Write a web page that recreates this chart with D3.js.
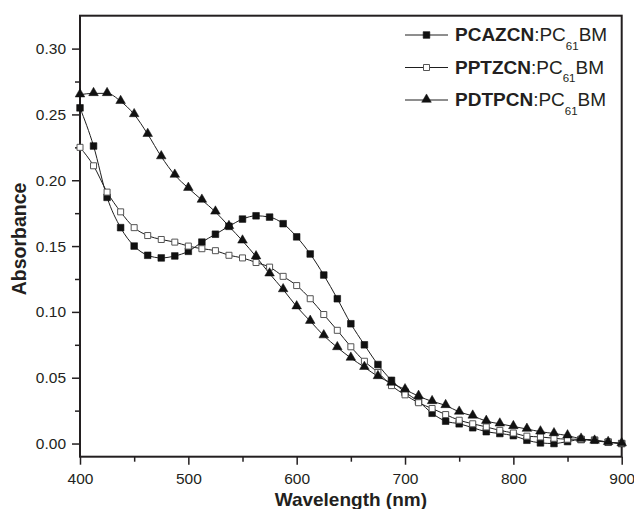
<!DOCTYPE html>
<html>
<head>
<meta charset="utf-8">
<script src="https://cdn.jsdelivr.net/npm/d3@7"></script>
<style>
  html, body { margin: 0; padding: 0; background: #fff; }
  svg { display: block; font-family: "Liberation Sans", Arial, Helvetica, sans-serif; }
</style>
</head>
<body>
<svg id="chart" width="634" height="509"></svg>
<script>
// ---- Data ----
const wavelength = [400, 412.5, 425, 437.5, 450, 462.5, 475, 487.5, 500, 512.5,
  525, 537.5, 550, 562.5, 575, 587.5, 600, 612.5, 625, 637.5,
  650, 662.5, 675, 687.5, 700, 712.5, 725, 737.5, 750, 762.5,
  775, 787.5, 800, 812.5, 825, 837.5, 850, 862.5, 875, 887.5, 900];

const pcazcn = [0.255, 0.226, 0.187, 0.164, 0.150, 0.143, 0.141, 0.1425, 0.146, 0.153,
  0.159, 0.165, 0.1705, 0.173, 0.172, 0.167, 0.157, 0.144, 0.128, 0.110,
  0.091, 0.075, 0.060, 0.048, 0.039, 0.032, 0.023, 0.017, 0.015, 0.012,
  0.009, 0.0076, 0.006, 0.0025, 0.0005, 0.0, 0.0015, 0.003, 0.0025, 0.001, 0.0];

const pptzcn = [0.225, 0.211, 0.191, 0.176, 0.164, 0.158, 0.155, 0.153, 0.150, 0.148,
  0.1465, 0.143, 0.141, 0.1375, 0.134, 0.127, 0.120, 0.110, 0.098, 0.086,
  0.0735, 0.0625, 0.054, 0.044, 0.037, 0.031, 0.0266, 0.022, 0.0177, 0.015,
  0.0126, 0.010, 0.008, 0.0056, 0.005, 0.004, 0.0033, 0.0033, 0.0025, 0.0012, 0.0];

const pdtpcn = [0.265, 0.266, 0.266, 0.260, 0.250, 0.235, 0.218, 0.204, 0.194, 0.185,
  0.176, 0.165, 0.154, 0.142, 0.129, 0.117, 0.104, 0.093, 0.082, 0.073,
  0.065, 0.058, 0.051, 0.046, 0.041, 0.036, 0.032, 0.029, 0.024, 0.021,
  0.017, 0.015, 0.013, 0.011, 0.009, 0.0076, 0.006, 0.0035, 0.002, 0.001, 0.0];

const seriesNames = ["PCAZCN", "PPTZCN", "PDTPCN"];
const xTicks = [400, 500, 600, 700, 800, 900];
const xMinorTicks = [450, 550, 650, 750, 850];
const yTicks = [0.00, 0.05, 0.10, 0.15, 0.20, 0.25, 0.30];
const yMinorTicks = [0.025, 0.075, 0.125, 0.175, 0.225, 0.275];
const xTitle = "Wavelength (nm)";
const yTitle = "Absorbance";

// ---- Layout ----
const pL = 80, pR = 621.7, pT = 15.7, pB = 456.7;
const svg = d3.select("#chart");

const x = d3.scaleLinear().domain([400, 900]).range([pL, pR]);
const y = d3.scaleLinear().domain([-0.01, 0.325]).range([pB, pT]);

const axisColor = "#231f20";

// Axes
const gx = svg.append("g").attr("transform", `translate(0,${pB})`);
gx.call(d3.axisBottom(x).tickValues(xMinorTicks).tickSize(5).tickFormat(""));
gx.select(".domain").remove();
const gx2 = svg.append("g").attr("transform", `translate(0,${pB})`);
gx2.call(d3.axisBottom(x).tickValues(xTicks).tickSize(8).tickPadding(4).tickFormat(d3.format("d")));
gx2.select(".domain").remove();

const gy = svg.append("g").attr("transform", `translate(${pL},0)`);
gy.call(d3.axisLeft(y).tickValues(yMinorTicks).tickSize(5).tickFormat(""));
gy.select(".domain").remove();
const gy2 = svg.append("g").attr("transform", `translate(${pL},0)`);
gy2.call(d3.axisLeft(y).tickValues(yTicks).tickSize(8).tickPadding(6).tickFormat(d3.format(".2f")));
gy2.select(".domain").remove();

svg.selectAll(".tick line").attr("stroke", axisColor).attr("stroke-width", 1.5);
svg.selectAll(".tick text")
  .attr("fill", "#231f20")
  .style("font-size", "15.5px")
  .style("font-family", "'Liberation Sans', Arial, sans-serif");
gx2.selectAll(".tick text").attr("dy", "0.71em").attr("y", 16.5);

// Frame
svg.append("rect")
  .attr("x", pL).attr("y", pT)
  .attr("width", pR - pL).attr("height", pB - pT)
  .attr("fill", "none").attr("stroke", axisColor).attr("stroke-width", 2);

// Titles
svg.append("text")
  .attr("x", (pL + pR) / 2).attr("y", 506)
  .attr("text-anchor", "middle")
  .style("font-size", "19px").style("font-weight", "bold")
  .attr("fill", "#231f20")
  .text(xTitle);

svg.append("text")
  .attr("transform", `translate(26,239) rotate(-90)`)
  .attr("text-anchor", "middle")
  .style("font-size", "19.5px").style("font-weight", "bold")
  .attr("fill", "#231f20")
  .text(yTitle);

// ---- Series ----
const lineColor = "#1e1e1e";
const line = d3.line().x(d => x(d[0])).y(d => y(d[1])).curve(d3.curveMonotoneX);

const series = [
  { name: seriesNames[0], values: pcazcn, marker: "filledSquare" },
  { name: seriesNames[1], values: pptzcn, marker: "openSquare" },
  { name: seriesNames[2], values: pdtpcn, marker: "triangle" }
];

const sqSym = d3.symbol().type(d3.symbolSquare).size(44)();
const triSym = d3.symbol().type(d3.symbolTriangle).size(40)();

function drawMarker(g, type) {
  if (type === "filledSquare") {
    g.append("path").attr("d", sqSym).attr("fill", "#111").attr("stroke", "#111").attr("stroke-width", 0.6);
  } else if (type === "openSquare") {
    g.append("path").attr("d", d3.symbol().type(d3.symbolSquare).size(36)())
      .attr("fill", "#fff").attr("stroke", "#555").attr("stroke-width", 1);
  } else {
    g.append("path").attr("d", triSym).attr("fill", "#111").attr("stroke", "#111").attr("stroke-width", 0.5)
      .attr("transform", "translate(0,-0.5)");
  }
}

series.forEach(s => {
  const pts = wavelength.map((w, i) => [w, s.values[i]]);
  svg.append("path")
    .attr("d", line(pts))
    .attr("fill", "none")
    .attr("stroke", lineColor)
    .attr("stroke-width", 1);
});

series.forEach(s => {
  const g = svg.append("g");
  wavelength.forEach((w, i) => {
    const m = g.append("g").attr("transform", `translate(${x(w)},${y(s.values[i])})`);
    drawMarker(m, s.marker);
  });
});

// ---- Legend ----
const legendY = [35, 67.5, 100];
series.forEach((s, i) => {
  const ly = legendY[i];
  svg.append("line")
    .attr("x1", 405).attr("x2", 448).attr("y1", ly).attr("y2", ly)
    .attr("stroke", lineColor).attr("stroke-width", 1);
  const m = svg.append("g").attr("transform", `translate(426.5,${ly})`);
  drawMarker(m, s.marker);
  const t = svg.append("text")
    .attr("x", 455).attr("y", ly + 6)
    .style("font-size", "19px")
    .attr("fill", "#231f20");
  t.append("tspan").style("font-weight", "bold").text(s.name);
  t.append("tspan").text(":PC");
  t.append("tspan").attr("dy", 8.5).style("font-size", "11.5px").text("61");
  t.append("tspan").attr("dy", -8.5).text("BM");
});
</script>
</body>
</html>
